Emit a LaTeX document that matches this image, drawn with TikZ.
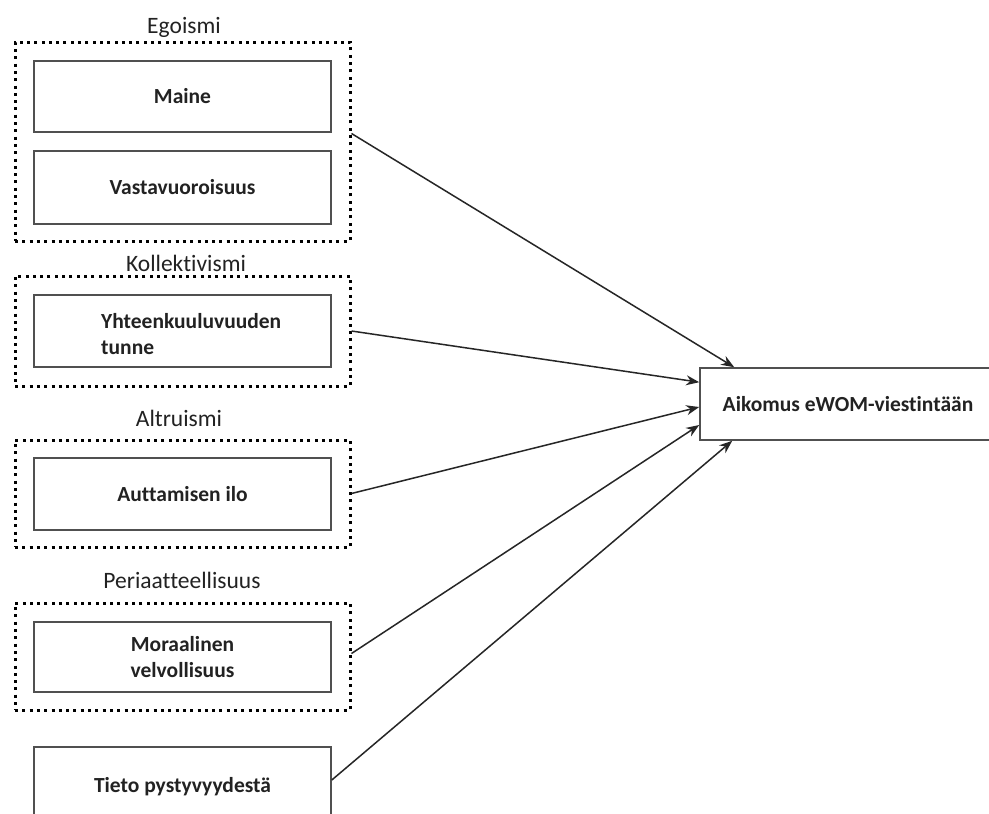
\documentclass[tikz,border=0pt]{standalone}
\usepackage{fontspec}
\setmainfont{Carlito}[Ligatures={NoCommon}]
\usetikzlibrary{arrows.meta}
\definecolor{txt}{HTML}{222222}
\definecolor{boxline}{HTML}{505050}
\tikzset{
  grp/.style={draw=black, line width=3pt, dash pattern=on 3pt off 4.3pt, minimum width=335pt, inner sep=0pt},
  ibox/.style={draw=boxline, line width=1.6pt, fill=white, minimum width=297pt, inner sep=0pt, font=\fontsize{21.5}{26}\bfseries, text=txt, align=center},
  ttl/.style={font=\fontsize{23.5}{26}\selectfont, text=txt, inner sep=0pt},
  arr/.style={-{Stealth[length=13pt,width=10pt]}, line width=1.5pt, draw=black!85},
}
\begin{document}
\begin{tikzpicture}[x=1pt,y=-1pt]
\clip (0,0) rectangle (989,814);
\fill[white] (0,0) rectangle (989,814);
% Egoismi
\node[ttl] (t1) at (184,27) {Egoismi};
\node[grp, minimum height=199pt] (g1) at (182.5,141.5) {};
\node[ibox, minimum height=71pt] (maine) at (182.5,96.5) {Maine};
\node[ibox, minimum height=73pt] (vasta) at (182.5,187.5) {Vastavuoroisuus};
% Kollektivismi
\node[ttl] (t2) at (186,263) {Kollektivismi};
\node[grp, minimum height=110pt] (g2) at (182.5,331) {};
\node[ibox, minimum height=72pt] (yht) at (182.5,331) {};
\node[font=\fontsize{21.5}{26}\bfseries, text=txt, align=left, anchor=west, inner sep=0pt] (yhtt) at (101,334) {Yhteenkuuluvuuden\\tunne};
% Altruismi
\node[ttl] (t3) at (179,418) {Altruismi};
\node[grp, minimum height=107pt] (g3) at (182.5,493.5) {};
\node[ibox, minimum height=72pt] (aut) at (182.5,494) {Auttamisen ilo};
% Periaatteellisuus
\node[ttl] (t4) at (182,580) {Periaatteellisuus};
\node[grp, minimum height=107pt] (g4) at (182.5,656.5) {};
\node[ibox, minimum height=70pt] (mor) at (182.5,657) {Moraalinen\\velvollisuus};
% Tieto
\node[ibox, minimum height=80pt] (tieto) at (182.5,787) {Tieto pystyvyydestä};
% Target
\node[ibox, minimum width=296pt, minimum height=72pt] (tg) at (848,404) {Aikomus eWOM-viestintään};
% arrows
\draw[arr] ([yshift=8pt]g1.east) -- ([xshift=35pt]tg.north west);
\draw[arr] (g2.east) -- ([yshift=-15pt]tg.north west);
\draw[arr] (g3.east) -- ([yshift=-3pt]tg.west);
\draw[arr] ([yshift=3pt]g4.east) -- ([yshift=-21pt]tg.west);
\draw[arr] ([yshift=7pt]tieto.east) -- ([xshift=33pt]tg.south west);
\end{tikzpicture}
\end{document}
